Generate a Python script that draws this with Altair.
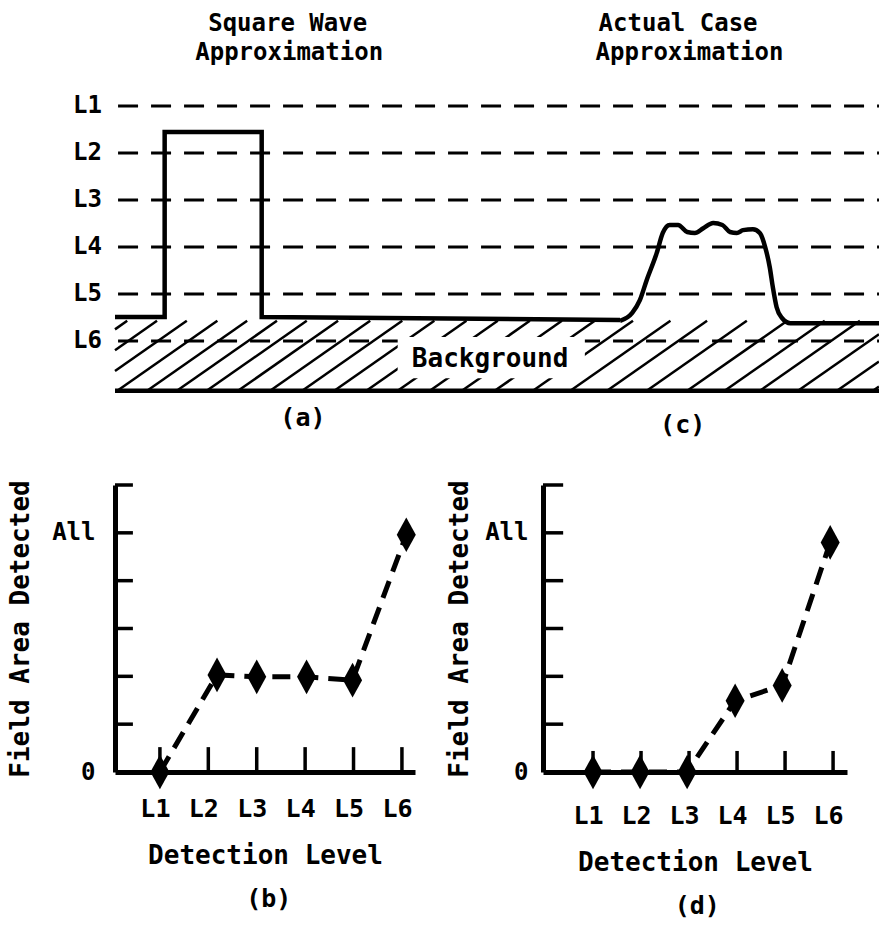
import altair as alt
import pandas as pd

FONT = "DejaVu Sans Mono"
INK = "#000000"

# ---------------- top diagram: (a) square wave, (c) actual case ----------------
level_names = ["L1", "L2", "L3", "L4", "L5", "L6"]
level_amps = [6.0, 5.0, 4.0, 3.0, 2.0, 1.0]

square_t = [0.0, 6.5, 6.5, 19.2, 19.2, 66.1]
square_amp = [1.51, 1.51, 5.45, 5.45, 1.51, 1.45]

actual_t = [66.1, 67.7, 68.7, 69.6, 70.9, 71.7, 72.6, 73.7, 74.9, 75.9, 77.0, 78.3,
            79.5, 80.5, 81.4, 82.2, 83.5, 84.4, 85.1, 85.7, 86.1, 86.6, 87.3, 88.4, 100.0]
actual_amp = [1.43, 1.60, 1.87, 2.30, 2.87, 3.30, 3.47, 3.47, 3.32, 3.30, 3.40, 3.51,
              3.47, 3.32, 3.30, 3.36, 3.38, 3.30, 3.00, 2.57, 2.15, 1.72, 1.49, 1.38, 1.38]

background_top = 1.43
background_bottom = -0.06
hatch_starts = [-11.5, -7.6, -3.7, 0.3, 4.2, 8.1, 12.0, 16.1, 20.3, 24.5, 28.7, 32.9,
                37.0, 41.2, 45.4, 49.7, 54.7, 59.6, 64.4, 69.6, 74.9, 79.8, 84.4, 89.4,
                94.5, 99.2]

top_titles = ["Square Wave", "Approximation", "Actual Case", "Approximation"]
top_title_t = [22.6, 22.8, 73.7, 75.2]
top_title_amp = [7.74, 7.13, 7.74, 7.13]

top_captions = ["(a)", "(c)"]
top_caption_t = [24.6, 74.3]
top_caption_amp = [-0.64, -0.79]

background_label = ["Background"]
background_label_t = [49.1]
background_label_amp = [0.45]
background_box_t = [37.0, 61.5]
background_box_amp = [0.21, 1.085]

# ---------------- bottom panels (b) and (d) ----------------
b_levels = [1.0, 2.18, 3.0, 4.03, 4.98, 6.09]
b_area = [0.0, 2.03, 1.99, 1.99, 1.92, 4.96]
d_levels = [1.0, 1.98, 2.96, 3.96, 4.94, 5.94]
d_area = [0.0, 0.0, 0.0, 1.49, 1.81, 4.8]
tick_levels = [1, 2, 3, 4, 5, 6]
tick_areas = [1, 2, 3, 4, 5, 6]
area_labels = [0, 5]

# ---------------- styles ----------------
LINE_DASH = [20, 13]
HATCH_RUN = 13.1
T_MIN, T_MAX = 0.0, 100.0
DIAMOND = "M0,-1L0.55,0L0,1L-0.55,0Z"

T_SCALE = alt.Scale(domain=[T_MIN, T_MAX], nice=False, zero=False)
A_SCALE = alt.Scale(domain=[-0.17, 6.47], nice=False, zero=False)


def tx(f):
    return alt.X(f, type="quantitative", scale=T_SCALE, axis=None)


def ay(f):
    return alt.Y(f, type="quantitative", scale=A_SCALE, axis=None)


levels_df = pd.DataFrame({"name": level_names, "amp": level_amps,
                          "t0": 0.4, "t1": T_MAX, "tl": -1.7})
level_lines = alt.Chart(levels_df).mark_rule(
    color=INK, strokeWidth=3, strokeDash=LINE_DASH
).encode(x=tx("t0"), x2="t1", y=ay("amp"))
level_text = alt.Chart(levels_df).mark_text(
    align="right", baseline="middle", font=FONT, fontSize=24, fontWeight="bold", color=INK
).encode(x=tx("tl"), y=ay("amp"), text="name")

# hatch strokes, trimmed to the frame of the drawing
rows = []
slope = (background_top - background_bottom) / HATCH_RUN
for s in hatch_starts:
    t0, a0 = s, background_bottom
    t1, a1 = s + HATCH_RUN, background_top
    if t0 < T_MIN:
        a0 = a0 + (T_MIN - t0) * slope
        t0 = T_MIN
    if t1 > T_MAX:
        a1 = a1 - (t1 - T_MAX) * slope
        t1 = T_MAX
    if t1 > t0:
        rows.append({"t0": t0, "t1": t1, "a0": a0, "a1": a1})
hatch_df = pd.DataFrame(rows)
hatch = alt.Chart(hatch_df).mark_rule(color=INK, strokeWidth=2.5).encode(
    x=tx("t0"), x2="t1", y=ay("a0"), y2="a1")

box_df = pd.DataFrame({"t0": [background_box_t[0]], "t1": [background_box_t[1]],
                       "a0": [background_box_amp[0]], "a1": [background_box_amp[1]]})
box = alt.Chart(box_df).mark_rect(color="white").encode(
    x=tx("t0"), x2="t1", y=ay("a0"), y2="a1")

bg_text_df = pd.DataFrame({"text": background_label, "t": background_label_t,
                           "amp": background_label_amp})
bg_text = alt.Chart(bg_text_df).mark_text(
    align="center", baseline="alphabetic", font=FONT, fontSize=26, fontWeight="bold", color=INK
).encode(x=tx("t"), y=ay("amp"), text="text")

square_df = pd.DataFrame({"t": square_t, "amp": square_amp, "i": range(len(square_t))})
square = alt.Chart(square_df).mark_line(
    color=INK, strokeWidth=4.5, strokeJoin="miter", interpolate="linear"
).encode(x=tx("t"), y=ay("amp"), order="i:Q")

actual_df = pd.DataFrame({"t": actual_t, "amp": actual_amp, "i": range(len(actual_t))})
actual = alt.Chart(actual_df).mark_line(
    color=INK, strokeWidth=4.5, interpolate="monotone"
).encode(x=tx("t"), y=ay("amp"), order="i:Q")

bottom_df = pd.DataFrame({"t0": [T_MIN], "t1": [T_MAX], "amp": [background_bottom]})
bottom_line = alt.Chart(bottom_df).mark_rule(color=INK, strokeWidth=4.5).encode(
    x=tx("t0"), x2="t1", y=ay("amp"))

titles_df = pd.DataFrame({"text": top_titles, "t": top_title_t, "amp": top_title_amp})
titles = alt.Chart(titles_df).mark_text(
    align="center", baseline="middle", font=FONT, fontSize=24, fontWeight="bold", color=INK
).encode(x=tx("t"), y=ay("amp"), text="text")

caps_df = pd.DataFrame({"text": top_captions, "t": top_caption_t, "amp": top_caption_amp})
caps = alt.Chart(caps_df).mark_text(
    align="center", baseline="middle", font=FONT, fontSize=25, fontWeight="bold", color=INK
).encode(x=tx("t"), y=ay("amp"), text="text")

top = alt.layer(level_lines, hatch, box, bg_text, square, actual, bottom_line,
                level_text, titles, caps).properties(width=764, height=312)


def panel(levels, area, xdom, width, caption, cap_level, cap_area,
          ytick_len, xtick_len, label_pad, title_pad, xlabel_pad, xtitle_pad):
    XS = alt.Scale(domain=xdom, nice=False, zero=False)
    YS = alt.Scale(domain=[0, 6], nice=False, zero=False)
    xaxis = alt.Axis(values=tick_levels, labelExpr="'L' + datum.value", ticks=False,
                     grid=False, domainColor=INK, domainWidth=5, labelFont=FONT,
                     labelFontSize=25, labelFontWeight="bold", labelColor=INK,
                     labelPadding=xlabel_pad, labelOffset=-5, title="Detection Level",
                     titleFont=FONT, titleFontSize=26, titleFontWeight="bold",
                     titleColor=INK, titlePadding=xtitle_pad)
    yaxis = alt.Axis(values=area_labels, labelExpr="datum.value == 5 ? 'All' : '0'",
                     ticks=False, grid=False, domainColor=INK, domainWidth=5,
                     labelFont=FONT, labelFontSize=24, labelFontWeight="bold",
                     labelColor=INK, labelPadding=label_pad, title="Field Area Detected",
                     titleFont=FONT, titleFontSize=26, titleFontWeight="bold",
                     titleColor=INK, titlePadding=title_pad)

    def X(f):
        return alt.X(f, type="quantitative", scale=XS, axis=xaxis)

    def Y(f):
        return alt.Y(f, type="quantitative", scale=YS, axis=yaxis)

    df = pd.DataFrame({"level": levels, "area": area})
    line = alt.Chart(df).mark_line(color=INK, strokeWidth=5, strokeDash=[18, 10]).encode(
        x=X("level"), y=Y("area"))
    pts = alt.Chart(df).mark_point(shape=DIAMOND, size=1200, filled=True, color=INK,
                                   opacity=1).encode(x=X("level"), y=Y("area"))

    yt = pd.DataFrame({"area": tick_areas})
    yt["x0"] = xdom[0]
    yt["x1"] = xdom[0] + ytick_len
    yticks = alt.Chart(yt).mark_rule(color=INK, strokeWidth=3.5).encode(
        x=X("x0"), x2="x1", y=Y("area"))

    xt = pd.DataFrame({"level": tick_levels})
    xt["y0"] = 0.0
    xt["y1"] = xtick_len
    xticks = alt.Chart(xt).mark_rule(color=INK, strokeWidth=3.5).encode(
        x=X("level"), y=Y("y0"), y2="y1")

    cdf = pd.DataFrame({"text": [caption], "level": [cap_level], "area": [cap_area]})
    cap = alt.Chart(cdf).mark_text(align="center", baseline="middle", font=FONT,
                                   fontSize=25, fontWeight="bold", color=INK).encode(
        x=X("level"), y=Y("area"), text="text")
    return alt.layer(yticks, xticks, line, pts, cap).properties(width=width, height=287)


panel_b = panel(b_levels, b_area, [0.072, 6.27], 300, "(b)", 3.25, -2.66,
                0.37, 0.52, 20, 18, 24, 21)
panel_d = panel(d_levels, d_area, [-0.042, 6.29], 304, "(d)", 3.17, -2.8,
                0.42, 0.44, 15, 12, 31, 21)

bottom = alt.hconcat(panel_b, panel_d, spacing=128, bounds="flush")

chart = alt.vconcat(top, bottom, spacing=89, bounds="flush").configure_view(
    stroke=None
).properties(
    autosize=alt.AutoSizeParams(type="none"),
    padding={"left": 115, "top": 84, "right": 764, "bottom": 840},
    background="white",
)

chart.save("out.html", embed_options={"renderer": "svg", "actions": False})
